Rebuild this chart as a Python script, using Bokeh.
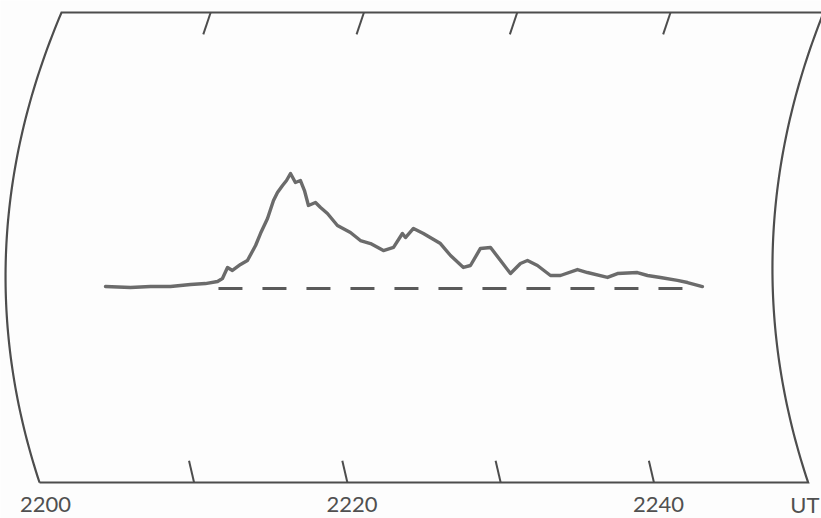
import numpy as np
from bokeh.plotting import figure
from bokeh.models import Range1d, ColumnDataSource
from bokeh.core.properties import value
from bokeh.embed import file_html
from bokeh.resources import INLINE

# --- data: minutes after 2200 UT, amplitude (arbitrary units, baseline = 0) ---
minutes = [4.22, 5.85, 7.16, 8.46, 9.77, 10.74, 11.53, 11.85, 12.18, 12.50,
           13.03, 13.48, 14.01, 14.33, 14.79, 15.18, 15.44, 15.77, 16.03, 16.29,
           16.61, 16.94, 17.20, 17.46, 17.92, 18.25, 18.70, 19.35, 20.20, 20.85,
           21.51, 22.35, 23.01, 23.59, 23.79, 24.31, 24.96, 26.07, 26.73, 27.57,
           28.03, 28.68, 29.34, 29.99, 30.64, 31.29, 31.75, 32.40, 33.25, 33.90,
           35.01, 35.66, 36.97, 37.62, 38.92, 39.58, 40.42, 41.53, 42.19, 43.16]
amplitude = [1.7, 0.9, 1.7, 1.7, 3.5, 4.3, 6.1, 8.7, 18.3, 15.7,
             20.9, 24.3, 37.4, 47.8, 60.9, 76.5, 83.5, 89.6, 93.9, 100.0,
             92.2, 93.9, 85.2, 72.2, 74.8, 70.4, 65.2, 54.8, 48.7, 41.7,
             39.1, 33.0, 35.7, 47.8, 44.3, 52.2, 47.8, 39.1, 28.7, 18.3,
             20.0, 34.8, 35.7, 24.3, 13.0, 21.7, 24.3, 20.0, 11.3, 11.3,
             16.5, 13.9, 9.6, 13.0, 13.9, 11.3, 9.6, 7.0, 5.2, 1.7]
baseline_start = 11.59
baseline_end = 42.38
baseline_level = 0.0

tick_minutes = [10, 20, 30, 40]
label_minutes = [0, 20, 40]
label_texts = ["2200", "2220", "2240"]
unit_text = "UT"

# --- frame geometry (chart record outline) ---
FRAME_TOP = 240.0
FRAME_BOTTOM = -168.7
LEFT_M0, LEFT_A0, LEFT_C = -2.30, 10.3, 6.92e-5
RIGHT_M0, RIGHT_A0, RIGHT_C = 47.73, 17.3, 6.73e-5

p = figure(width=821, height=518, output_backend="svg", toolbar_location=None,
           x_range=Range1d(-2.629, 50.93), y_range=Range1d(-200, 250.43),
           min_border=0, min_border_left=0, min_border_right=0,
           min_border_top=0, min_border_bottom=0,
           x_axis_location=None, y_axis_location=None)
p.grid.visible = False
p.outline_line_color = None
p.background_fill_color = "#fdfdfd"
p.border_fill_color = "#fdfdfd"

frame_col = "#4d4d4d"
a = np.linspace(FRAME_BOTTOM, FRAME_TOP, 80)
left_m = LEFT_M0 + LEFT_C * (a - LEFT_A0) ** 2
right_m = RIGHT_M0 + RIGHT_C * (a - RIGHT_A0) ** 2
outline_x = np.concatenate([[left_m[0]], right_m, left_m[::-1]])
outline_y = np.concatenate([[a[0]], a, a[::-1]])
p.line(outline_x, outline_y, line_color=frame_col, line_width=2.2, line_join="miter")

# tick marks (slanted, as on the record)
tick_len = 19.0
xs_b = [[t - 0.33, t] for t in tick_minutes]
ys_b = [[FRAME_BOTTOM + tick_len, FRAME_BOTTOM] for _ in tick_minutes]
p.multi_line(xs_b, ys_b, line_color=frame_col, line_width=2.0)
xs_t = [[t + 1.08, t + 0.6] for t in tick_minutes]
ys_t = [[FRAME_TOP, FRAME_TOP - tick_len] for _ in tick_minutes]
p.multi_line(xs_t, ys_t, line_color=frame_col, line_width=2.0)

# dashed baseline
p.line([baseline_start, baseline_end], [baseline_level, baseline_level],
       line_color="#5a5a5a", line_width=2.8, line_dash="24 20")

# trace
src = ColumnDataSource(dict(x=minutes, y=amplitude))
p.line("x", "y", source=src, line_color="#6b6b6b", line_width=3.4,
       line_join="round", line_cap="round")

# labels
p.text(x=[m + 0.3 for m in label_minutes], y=[-187.5] * len(label_minutes),
       text=label_texts, text_font=value("Lato"), text_font_size="22px",
       text_color="#505050", text_align="center", text_baseline="middle")
p.text(x=[49.85], y=[-187.5], text=[unit_text], text_font=value("Lato"),
       text_font_size="22px", text_color="#505050", text_align="center",
       text_baseline="middle")

open("out.html", "w").write(file_html(p, INLINE))
